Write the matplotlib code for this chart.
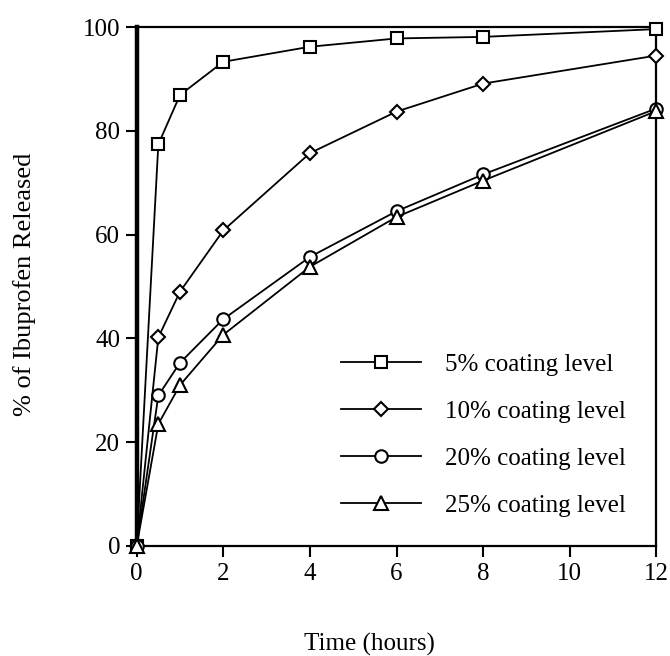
import numpy as np
import matplotlib as mpl
from matplotlib import pyplot as plt

# release data (sampling times in hours, % released)
hours = [0, 0.5, 1, 2, 4, 6, 8, 12]
coat_5 = [0, 77.4, 86.9, 93.3, 96.2, 97.8, 98.1, 99.6]
coat_10 = [0, 40.2, 49.0, 60.8, 75.7, 83.7, 89.1, 94.5]
coat_20 = [0, 29.0, 35.3, 43.7, 55.7, 64.5, 71.6, 84.3]
coat_25 = [0, 23.5, 31.0, 40.7, 53.8, 63.4, 70.4, 83.8]
labels = ["5% coating level", "10% coating level",
          "20% coating level", "25% coating level"]
markers = ["s", "D", "o", "^"]
msizes = [8, 7.5, 9, 9.5]

mpl.rcParams['font.family'] = ['Liberation Serif', 'DejaVu Serif']
FS = 18

fig = plt.figure(figsize=(6.7, 6.56), dpi=100)
ax = fig.add_axes([0.204, 0.1677, 0.7756, 0.7911])

for ys, m, ms, lab in zip([coat_5, coat_10, coat_20, coat_25],
                          markers, msizes, labels):
    ax.plot(hours, ys, color='black', lw=1.3, marker=m, ms=ms,
            mfc='white', mec='black', mew=1.5, label=lab, clip_on=False,
            zorder=3)

ax.set_xlim(0, 12)
ax.set_ylim(0, 100)
ax.set_xticks([0, 2, 4, 6, 8, 10, 12])
ax.set_yticks([0, 20, 40, 60, 80, 100])
ax.tick_params(direction='out', length=8, width=1.5, labelsize=FS, pad=4)
ax.spines['left'].set_linewidth(3.2)
for s in ['top', 'right', 'bottom']:
    ax.spines[s].set_linewidth(1.6)

ax.legend(loc='lower right', bbox_to_anchor=(0.96, 0.037), frameon=False,
          fontsize=FS, handlelength=3.2, handletextpad=0.95,
          labelspacing=0.98, numpoints=1, borderaxespad=0)

fig.text(0.036, 0.566, "% of Ibuprofen Released", rotation=90,
         ha='center', va='center', fontsize=19)
fig.text(0.552, 0.017, "Time (hours)", ha='center', va='center', fontsize=FS)

fig.savefig("out.png", dpi=100)
